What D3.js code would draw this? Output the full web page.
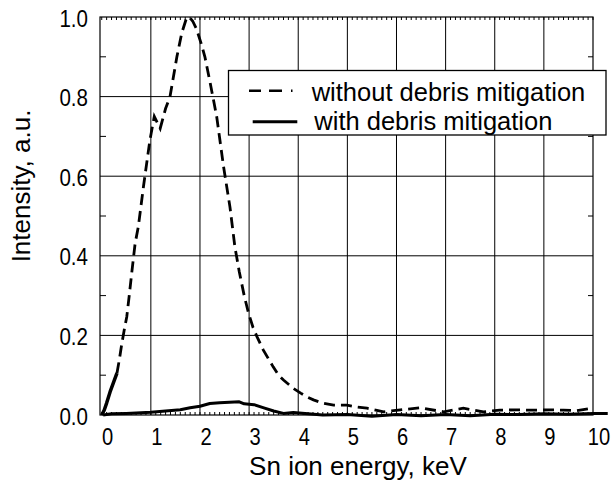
<!DOCTYPE html>
<html>
<head>
<meta charset="utf-8">
<script src="https://cdn.jsdelivr.net/npm/d3@7/dist/d3.min.js"></script>
<style>
  html, body { margin: 0; padding: 0; background: #fff; }
  svg { display: block; }
</style>
</head>
<body>
<svg id="chart" width="613" height="485"></svg>
<script>
// ---- data ----
const withoutX = [0.0, 0.05, 0.1, 0.17, 0.25, 0.31, 0.36, 0.41, 0.46, 0.51, 0.56, 0.61, 0.68, 0.745, 0.85, 0.98, 1.07, 1.19, 1.3, 1.39, 1.53, 1.63, 1.72, 1.78, 1.85, 1.93, 2.02, 2.1, 2.21, 2.34, 2.48, 2.61, 2.71, 2.8, 2.9, 2.99, 3.08, 3.16, 3.29, 3.4, 3.49, 3.6, 3.7, 3.9, 4.05, 4.17, 4.31, 4.5, 4.72, 4.99, 5.2, 5.4, 5.74, 6.08, 6.48, 6.96, 7.36, 7.77, 8.1, 8.45, 8.8, 9.13, 9.4, 9.67, 10.0];
const withoutY = [0.0, 0.012, 0.03, 0.058, 0.085, 0.105, 0.14, 0.18, 0.215, 0.247, 0.30, 0.356, 0.431, 0.473, 0.574, 0.69, 0.75, 0.72, 0.77, 0.80, 0.90, 0.96, 0.995, 1.0, 0.99, 0.97, 0.935, 0.90, 0.833, 0.75, 0.624, 0.523, 0.423, 0.36, 0.30, 0.255, 0.22, 0.197, 0.163, 0.14, 0.121, 0.10, 0.088, 0.067, 0.055, 0.046, 0.038, 0.03, 0.025, 0.025, 0.02, 0.017, 0.008, 0.013, 0.018, 0.008, 0.017, 0.008, 0.012, 0.013, 0.012, 0.013, 0.012, 0.011, 0.017];

const withX = [0.03, 0.2, 0.5, 1.0, 1.3, 1.6, 1.8, 2.0, 2.2, 2.4, 2.6, 2.8, 2.9, 3.1, 3.3, 3.5, 3.7, 3.9, 4.2, 4.5, 5.0, 5.5, 6.0, 6.5, 7.0, 7.5, 8.0, 8.5, 9.0, 9.5, 10.0, 10.3];
const withY = [0.0, 0.003, 0.004, 0.007, 0.01, 0.013, 0.018, 0.022, 0.029, 0.031, 0.032, 0.033, 0.028, 0.026, 0.018, 0.01, 0.004, 0.006, 0.003, 0.0, 0.001, -0.003, 0.001, -0.002, 0.001, -0.002, 0.002, 0.001, 0.003, 0.002, 0.004, 0.004];

const xTicks = [0, 1, 2, 3, 4, 5, 6, 7, 8, 9, 10];
const yTicks = [0.0, 0.2, 0.4, 0.6, 0.8, 1.0];
const yMinorTicks = [0.1, 0.3, 0.5, 0.7, 0.9];
const seriesNames = ["without debris mitigation", "with debris mitigation"];
const xTitle = "Sn ion energy, keV";
const yTitle = "Intensity, a.u.";

// ---- layout ----
const svg = d3.select("#chart");
const L = 100, R = 593, T = 17, B = 415;
const x = d3.scaleLinear().domain([-0.035, 10]).range([L, R]);
const y = d3.scaleLinear().domain([0, 1]).range([B, T]);
const sans = "'Liberation Sans', Arial, Helvetica, sans-serif";

// minor x ticks every 0.1 (top & bottom, inward)
const xMinor = d3.range(0, 101).map(i => i / 10);
const g = svg.append("g");
g.selectAll("line.xmt").data(xMinor).join("line")
  .attr("x1", d => x(d)).attr("x2", d => x(d))
  .attr("y1", T).attr("y2", T + 3)
  .attr("stroke", "#000").attr("stroke-width", 1);
g.selectAll("line.xmb").data(xMinor).join("line")
  .attr("x1", d => x(d)).attr("x2", d => x(d))
  .attr("y1", B).attr("y2", B - 3)
  .attr("stroke", "#000").attr("stroke-width", 1);

// y minor ticks
g.selectAll("line.ymL").data(yMinorTicks).join("line")
  .attr("x1", L).attr("x2", L + 6)
  .attr("y1", d => y(d)).attr("y2", d => y(d))
  .attr("stroke", "#000").attr("stroke-width", 1);
g.selectAll("line.ymR").data(yMinorTicks).join("line")
  .attr("x1", R).attr("x2", R - 5)
  .attr("y1", d => y(d)).attr("y2", d => y(d))
  .attr("stroke", "#000").attr("stroke-width", 1);

// grid lines
g.selectAll("line.gx").data(xTicks.filter(v => v > 0 && v < 10)).join("line")
  .attr("x1", d => x(d)).attr("x2", d => x(d))
  .attr("y1", T).attr("y2", B)
  .attr("stroke", "#000").attr("stroke-width", 1);
g.selectAll("line.gy").data(yTicks.filter(v => v > 0 && v < 1)).join("line")
  .attr("x1", L).attr("x2", R)
  .attr("y1", d => y(d)).attr("y2", d => y(d))
  .attr("stroke", "#000").attr("stroke-width", 1);

// frame
svg.append("rect").attr("x", L).attr("y", T).attr("width", R - L).attr("height", B - T)
  .attr("fill", "none").attr("stroke", "#000").attr("stroke-width", 1.2);

// tick labels (condensed look via horizontal scaling)
svg.selectAll("text.xl").data(xTicks).join("text")
  .attr("transform", d => `translate(${x(d) + 6},445) scale(0.84,1)`)
  .attr("text-anchor", "middle")
  .attr("font-family", sans).attr("font-size", 24)
  .attr("fill", "#000")
  .text(d => d3.format("d")(d));
svg.selectAll("text.yl").data(yTicks).join("text")
  .attr("transform", d => `translate(88,${y(d) + 9.5}) scale(0.84,1)`)
  .attr("text-anchor", "end")
  .attr("font-family", sans).attr("font-size", 24.5)
  .attr("fill", "#000")
  .text(d => d3.format(".1f")(d));

// axis titles
svg.append("text").attr("x", 358).attr("y", 475)
  .attr("text-anchor", "middle").attr("font-family", sans).attr("font-size", 26)
  .attr("fill", "#000").text(xTitle);
svg.append("text").attr("transform", "translate(30,186) rotate(-90)")
  .attr("text-anchor", "middle").attr("font-family", sans).attr("font-size", 26)
  .attr("fill", "#000").text(yTitle);

// series
const withoutData = withoutX.map((v, i) => [v, withoutY[i]]);
const withData = withX.map((v, i) => [v, withY[i]]);
const line = d3.line().x(d => x(d[0])).y(d => y(d[1]));

svg.append("path").datum(withData)
  .attr("d", line).attr("fill", "none")
  .attr("stroke", "#000").attr("stroke-width", 3).attr("stroke-linejoin", "round");

// noisy onset of the first curve appears solid in the reference
svg.append("path").datum(withoutData.filter(d => d[0] <= 0.31))
  .attr("d", line).attr("fill", "none")
  .attr("stroke", "#000").attr("stroke-width", 3.5).attr("stroke-linejoin", "round");
svg.append("path").datum(withoutData.filter(d => d[0] >= 0.31))
  .attr("d", line).attr("fill", "none")
  .attr("stroke", "#000").attr("stroke-width", 2.8)
  .attr("stroke-dasharray", "11,6");

// legend
const lg = svg.append("g");
lg.append("rect").attr("x", 228.5).attr("y", 70.5).attr("width", 377.5).attr("height", 64.5)
  .attr("fill", "#fff").attr("stroke", "#000").attr("stroke-width", 1.3);
lg.append("line").attr("x1", 249).attr("x2", 293).attr("y1", 90.7).attr("y2", 90.7)
  .attr("stroke", "#000").attr("stroke-width", 2.6).attr("stroke-dasharray", "12,8,13,9,1.5,10");
lg.append("line").attr("x1", 252.7).attr("x2", 297.3).attr("y1", 121.7).attr("y2", 121.7)
  .attr("stroke", "#000").attr("stroke-width", 3);
lg.append("text").attr("x", 311.7).attr("y", 101).attr("font-family", sans).attr("font-size", 25.5)
  .attr("fill", "#000").text(seriesNames[0]);
lg.append("text").attr("x", 314.3).attr("y", 130).attr("font-family", sans).attr("font-size", 25.5)
  .attr("fill", "#000").text(seriesNames[1]);
</script>
</body>
</html>
